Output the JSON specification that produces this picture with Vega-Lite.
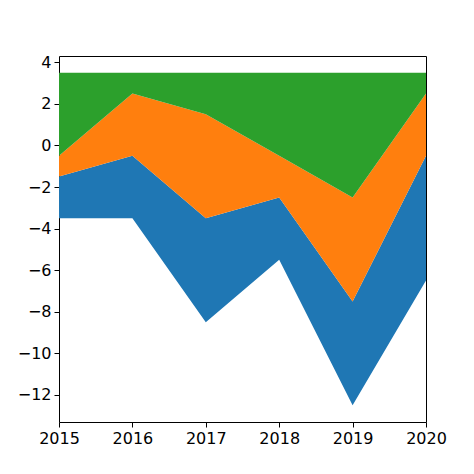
{
  "$schema": "https://vega.github.io/schema/vega-lite/v6.json",
  "autosize": {"type": "none"},
  "padding": {"left": 59, "top": 56, "right": 48, "bottom": 52},
  "width": 367,
  "height": 366,
  "config": {
    "view": {"stroke": "black", "strokeWidth": 1},
    "axis": {
      "grid": false,
      "domain": false,
      "tickColor": "black",
      "tickSize": 5,
      "labelColor": "black",
      "labelFont": "DejaVu Sans",
      "labelFontSize": 16,
      "labelPadding": 3,
      "labelFlush": false,
      "title": null
    }
  },
  "data": {
    "values": [
      {"year": 2015, "series": "A", "lo": -3.5, "hi": -1.5},
      {"year": 2016, "series": "A", "lo": -3.5, "hi": -0.5},
      {"year": 2017, "series": "A", "lo": -8.5, "hi": -3.5},
      {"year": 2018, "series": "A", "lo": -5.5, "hi": -2.5},
      {"year": 2019, "series": "A", "lo": -12.5, "hi": -7.5},
      {"year": 2020, "series": "A", "lo": -6.5, "hi": -0.5},
      {"year": 2015, "series": "B", "lo": -1.5, "hi": -0.5},
      {"year": 2016, "series": "B", "lo": -0.5, "hi": 2.5},
      {"year": 2017, "series": "B", "lo": -3.5, "hi": 1.5},
      {"year": 2018, "series": "B", "lo": -2.5, "hi": -0.5},
      {"year": 2019, "series": "B", "lo": -7.5, "hi": -2.5},
      {"year": 2020, "series": "B", "lo": -0.5, "hi": 2.5},
      {"year": 2015, "series": "C", "lo": -0.5, "hi": 3.5},
      {"year": 2016, "series": "C", "lo": 2.5, "hi": 3.5},
      {"year": 2017, "series": "C", "lo": 1.5, "hi": 3.5},
      {"year": 2018, "series": "C", "lo": -0.5, "hi": 3.5},
      {"year": 2019, "series": "C", "lo": -2.5, "hi": 3.5},
      {"year": 2020, "series": "C", "lo": 2.5, "hi": 3.5}
    ]
  },
  "mark": {"type": "area", "interpolate": "linear", "opacity": 1},
  "encoding": {
    "x": {
      "field": "year", "type": "quantitative",
      "scale": {"domain": [2015, 2020], "nice": false, "zero": false},
      "axis": {"values": [2015, 2016, 2017, 2018, 2019, 2020], "format": "d"}
    },
    "y": {
      "field": "hi", "type": "quantitative",
      "scale": {"domain": [-13.3, 4.3], "nice": false, "zero": false},
      "axis": {"values": [-12, -10, -8, -6, -4, -2, 0, 2, 4], "format": "d"}
    },
    "y2": {"field": "lo"},
    "color": {
      "field": "series", "type": "nominal",
      "scale": {"domain": ["A", "B", "C"], "range": ["#1f77b4", "#ff7f0e", "#2ca02c"]},
      "legend": null
    },
    "detail": {"field": "series"}
  }
}
